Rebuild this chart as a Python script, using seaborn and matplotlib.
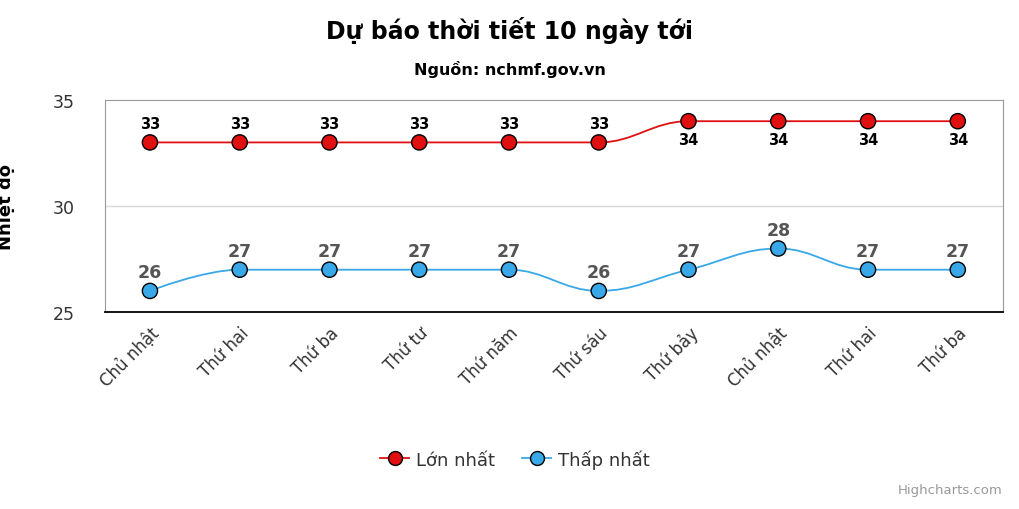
import matplotlib
matplotlib.use("Agg")
import matplotlib.pyplot as plt
import numpy as np
import pandas as pd
import seaborn as sns
from matplotlib.path import Path
from matplotlib.patches import PathPatch
from matplotlib.lines import Line2D

days = ["Chủ nhật", "Thứ hai", "Thứ ba", "Thứ tư", "Thứ năm",
        "Thứ sáu", "Thứ bảy", "Chủ nhật", "Thứ hai", "Thứ ba"]
t_max = [33, 33, 33, 33, 33, 33, 34, 34, 34, 34]
t_min = [26, 27, 27, 27, 27, 26, 27, 28, 27, 27]

RED = "#e01010"
BLUE = "#38a8e8"
plt.rcParams["font.family"] = "DejaVu Sans"

df = pd.DataFrame({"x": list(range(len(days))) * 2,
                   "temp": t_max + t_min,
                   "series": ["Lớn nhất"] * len(days) + ["Thấp nhất"] * len(days)})


def spline_path(xs, ys, smoothing=1.5):
    # Highcharts-like spline control points
    verts = [(xs[0], ys[0])]
    codes = [Path.MOVETO]
    n = len(xs)
    conts = []
    for i in range(n):
        if i == 0 or i == n - 1:
            conts.append((xs[i], ys[i], xs[i], ys[i]))
            continue
        d = smoothing + 1
        lx = (smoothing * xs[i] + xs[i - 1]) / d
        ly = (smoothing * ys[i] + ys[i - 1]) / d
        rx = (smoothing * xs[i] + xs[i + 1]) / d
        ry = (smoothing * ys[i] + ys[i + 1]) / d
        corr = ((ry - ly) * (rx - xs[i])) / (rx - lx) + ys[i] - ry
        ly += corr
        ry += corr
        if ly > max(ys[i - 1], ys[i]):
            ly = max(ys[i - 1], ys[i]); ry = 2 * ys[i] - ly
        elif ly < min(ys[i - 1], ys[i]):
            ly = min(ys[i - 1], ys[i]); ry = 2 * ys[i] - ly
        if ry > max(ys[i + 1], ys[i]):
            ry = max(ys[i + 1], ys[i]); ly = 2 * ys[i] - ry
        elif ry < min(ys[i + 1], ys[i]):
            ry = min(ys[i + 1], ys[i]); ly = 2 * ys[i] - ry
        conts.append((lx, ly, rx, ry))
    for i in range(1, n):
        verts += [(conts[i - 1][2], conts[i - 1][3]), (conts[i][0], conts[i][1]), (xs[i], ys[i])]
        codes += [Path.CURVE4] * 3
    return Path(verts, codes)


fig = plt.figure(figsize=(10.2, 5.1), dpi=100)
ax = fig.add_axes([0.103, 0.386, 0.880, 0.416])

xs = np.arange(len(days))
for vals, col in [(t_max, RED), (t_min, BLUE)]:
    ax.add_patch(PathPatch(spline_path(xs, vals), fill=False, edgecolor=col, lw=1.3, zorder=2))

sns.scatterplot(data=df, x="x", y="temp", hue="series", palette=[RED, BLUE],
                s=120, edgecolor="black", linewidth=1, legend=False, zorder=3, ax=ax)

for i, v in enumerate(t_max):
    if v == 33:
        ax.annotate(str(v), (i, v), xytext=(0, 8), textcoords="offset points",
                    ha="center", va="bottom", fontsize=10.5, fontweight="bold", color="black")
    else:
        ax.annotate(str(v), (i, v), xytext=(0, -8), textcoords="offset points",
                    ha="center", va="top", fontsize=10.5, fontweight="bold", color="black")
for i, v in enumerate(t_min):
    ax.annotate(str(v), (i, v), xytext=(0, 7), textcoords="offset points",
                ha="center", va="bottom", fontsize=12.5, fontweight="bold", color="#555555")

ax.set_xlim(-0.5, len(days) - 0.5)
ax.set_ylim(25, 35)
ax.set_yticks([25, 30, 35])
ax.set_xticks(xs)
ax.set_xticklabels(days, rotation=45, ha="right", rotation_mode="anchor", fontsize=12, color="#333333")
ax.tick_params(axis="y", labelsize=12.5, colors="#333333", length=0, pad=22)
ax.tick_params(axis="x", length=0, pad=8)
ax.axhline(30, color="#d8d8d8", lw=1, zorder=1)
for s in ["top", "right", "left"]:
    ax.spines[s].set_color("#999999")
ax.spines["bottom"].set_color("black")
ax.spines["bottom"].set_linewidth(1.3)
ax.set_xlabel("")
ax.set_ylabel("Nhiệt độ", fontsize=13, fontweight="bold")
ax.yaxis.set_label_coords(-0.1, 0.5)

fig.text(0.5, 0.94, "Dự báo thời tiết 10 ngày tới", ha="center", va="center",
         fontsize=17, fontweight="bold")
fig.text(0.5, 0.863, "Nguồn: nchmf.gov.vn", ha="center", va="center",
         fontsize=11.5, fontweight="bold")

handles = [Line2D([], [], color=RED, marker="o", markerfacecolor=RED, markeredgecolor="black",
                  markersize=10, lw=1.3),
           Line2D([], [], color=BLUE, marker="o", markerfacecolor=BLUE, markeredgecolor="black",
                  markersize=10, lw=1.3)]
fig.legend(handles, ["Lớn nhất", "Thấp nhất"], loc="center", bbox_to_anchor=(0.505, 0.098),
           ncol=2, frameon=False, fontsize=13, handlelength=1.6, handletextpad=0.4,
           columnspacing=1.5, labelcolor="#333333")
fig.text(0.983, 0.025, "Highcharts.com", ha="right", va="bottom", fontsize=9.5, color="#999999")

fig.savefig("out.png", dpi=100)
